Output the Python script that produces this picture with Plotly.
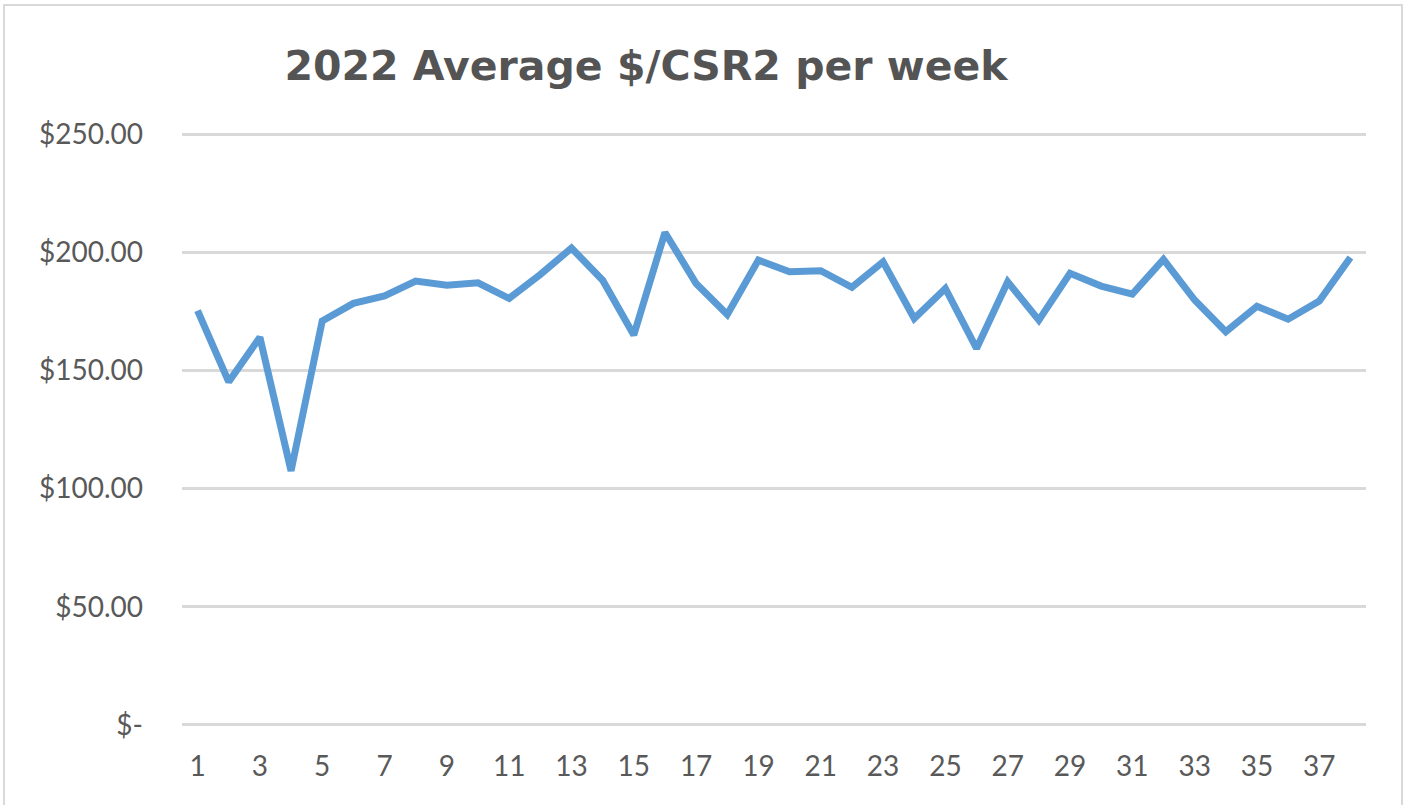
import plotly.graph_objects as go

weeks = list(range(1, 39))
avg_price = [175.3, 145.2, 164.0, 107.5, 170.9, 178.4, 181.5, 187.8, 186.1, 187.1,
             180.5, 190.6, 201.8, 188.2, 165.0, 208.4, 186.8, 173.7, 196.7, 191.8,
             192.2, 185.2, 196.0, 172.0, 184.7, 159.3, 187.5, 171.3, 191.1, 185.7,
             182.3, 197.0, 179.8, 166.4, 177.2, 171.7, 179.4, 197.8]
x_ticks = list(range(1, 38, 2))
y_ticks = [0, 50, 100, 150, 200, 250]
y_labels = ["$-", "$50.00", "$100.00", "$150.00", "$200.00", "$250.00"]
title_text = "2022 Average $/CSR2 per week"

fig = go.Figure()
fig.add_trace(go.Scatter(
    x=weeks, y=avg_price, mode="lines",
    line=dict(color="#5b9bd5", width=7, shape="linear"),
    hoverinfo="x+y", showlegend=False,
))

fig.update_layout(
    width=1408, height=805,
    margin=dict(l=182, r=42, t=133, b=79),
    paper_bgcolor="white", plot_bgcolor="white",
    font=dict(family="Lato, Open Sans, sans-serif", color="#595959"),
    title=dict(text="<b>" + title_text + "</b>", x=0.4588, xanchor="center",
               y=0.919, yanchor="middle",
               font=dict(size=41, color="#545454", family="DejaVu Sans, sans-serif")),
    xaxis=dict(range=[0.5, 38.5], tickvals=x_ticks, ticktext=[str(v) for v in x_ticks],
               showgrid=False, zeroline=False, showline=False, ticks="",
               tickfont=dict(size=28, color="#595959"), ticklabelstandoff=21),
    yaxis=dict(range=[-0.5, 250.5], tickvals=y_ticks, ticktext=y_labels,
               showgrid=True, gridcolor="#d9d9d9", gridwidth=3,
               zeroline=False, showline=False, ticks="",
               tickfont=dict(size=28, color="#595959"), ticklabelstandoff=38),
    shapes=[dict(type="rect", xref="paper", yref="paper",
                 x0=-0.1503, x1=1.0304, y0=-0.2, y1=1.2159,
                 line=dict(color="#d9d9d9", width=2), fillcolor="rgba(0,0,0,0)",
                 layer="below")],
)

fig.write_html("out.html", config={"displayModeBar": False},
               post_script="document.body.style.margin='0';")
